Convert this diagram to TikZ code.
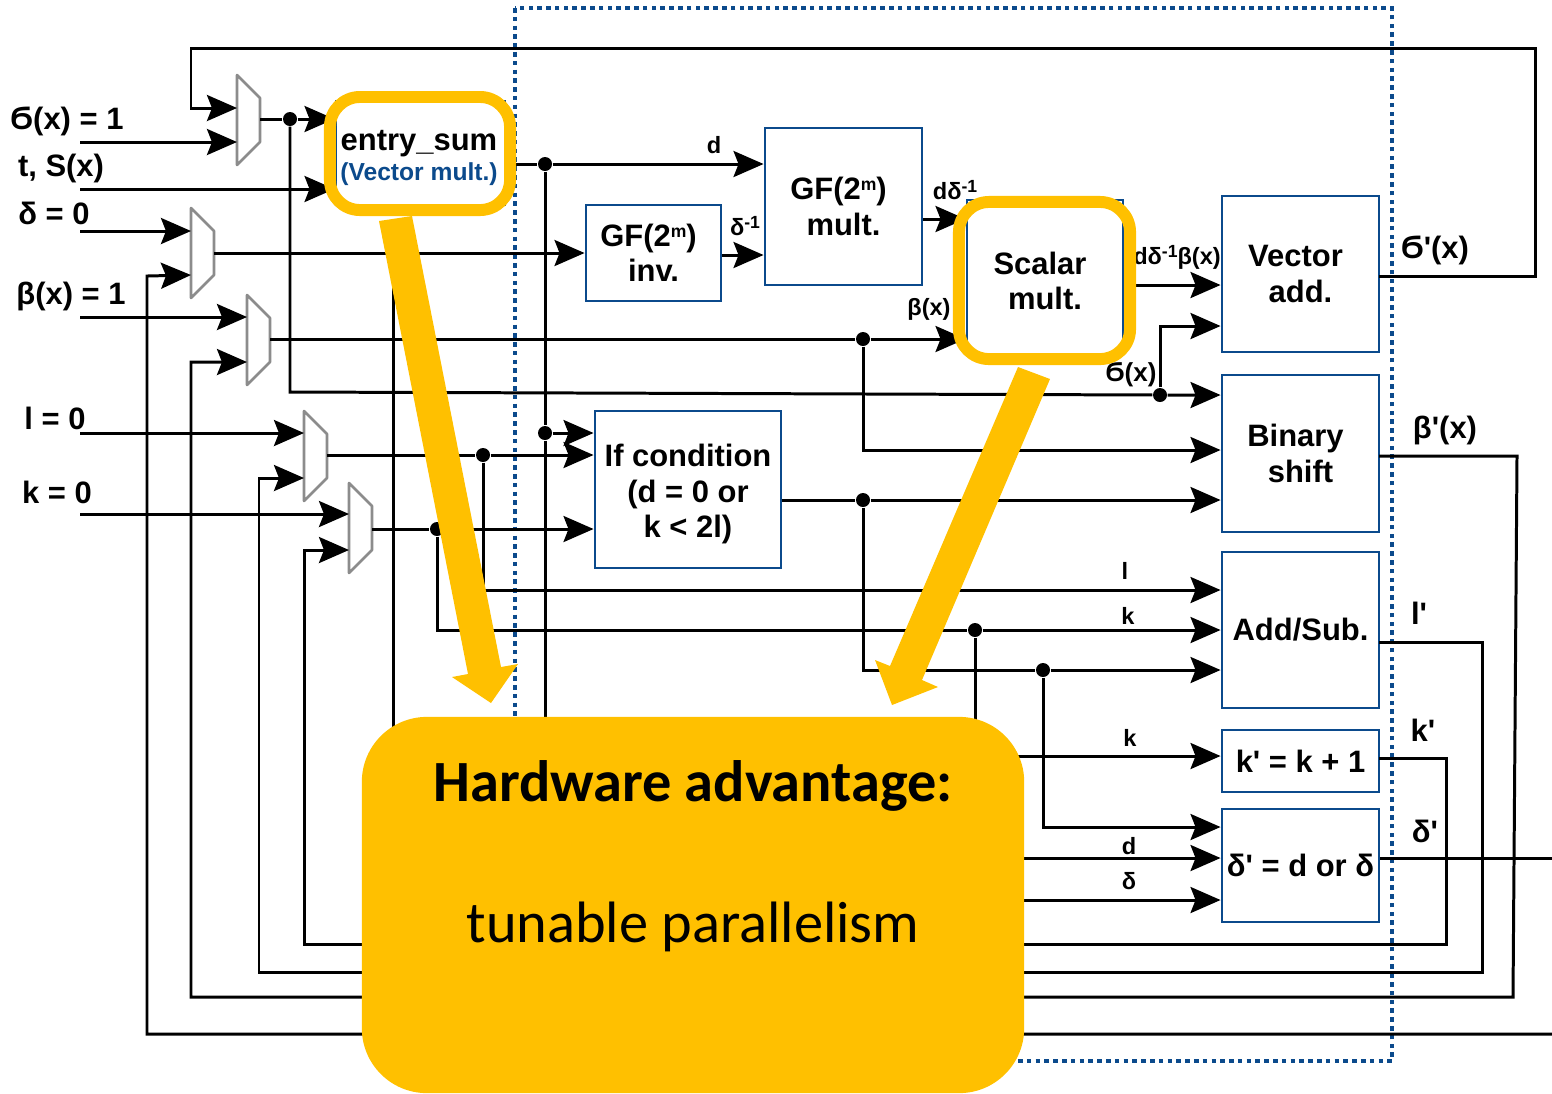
\documentclass[tikz,border=0pt]{standalone}
\usepackage{fontspec}
\newfontfamily\arialfont{Liberation Sans}
\newfontfamily\calibrifont{Carlito}
\usepackage{tikz}
\usetikzlibrary{arrows.meta}
\definecolor{boxblue}{HTML}{0B4A8C}
\definecolor{hiorange}{HTML}{FFC000}
\definecolor{muxgray}{HTML}{8C8C8C}
\newcommand{\upidx}[1]{\raisebox{0.55ex}{\fontsize{5}{6}\selectfont #1}}
\tikzset{
    wire/.style={line width=0.85pt, line join=miter},
    block/.style={draw=boxblue, fill=white, line width=0.8pt, align=center, inner sep=0pt, font=\fontsize{8.8}{10}\selectfont\arialfont\bfseries},
    hilite/.style={draw=hiorange, line width=3.4pt, rounded corners=0.3cm},
    junction/.style={circle, fill=black, inner sep=0pt, minimum size=0.14cm},
    lblbig/.style={inner sep=0pt, font=\fontsize{8.8}{10}\selectfont\arialfont\bfseries},
    lblmid/.style={inner sep=0pt, font=\fontsize{7.4}{9}\selectfont\arialfont\bfseries},
    lblsmall/.style={inner sep=0pt, font=\fontsize{6.7}{8}\selectfont\arialfont\bfseries},
}
\begin{document}
\begin{tikzpicture}[x=0.01cm, y=-0.01cm, >={Stealth[length=0.30cm, width=0.26cm, inset=0.05cm]}]
    \useasboundingbox (0,0) rectangle (1552,1093);

    % Dotted frame
    \draw[boxblue, line width=1pt, dash pattern=on 1.3pt off 1.2pt] (515,8) rectangle (1392,1061);

    % Blocks
    \node[block, minimum width=1.69cm, minimum height=1.04cm] (Entry) at (420.5,153) {};
    \node[block, minimum width=1.57cm, minimum height=1.57cm] (GFmult) at (843.5,206.5) {GF(2\upidx{m})\hspace*{0.1cm}\\mult.};
    \node[block, minimum width=1.35cm, minimum height=0.96cm] (GFinv) at (653.5,253) {GF(2\upidx{m})\hspace*{0.1cm}\\inv.};
    \node[block, minimum width=1.56cm, minimum height=1.54cm] (Scalar) at (1045,277) {\rule{0pt}{8.5pt}Scalar\hspace*{0.1cm}\\mult.};
    \node[block, minimum width=1.57cm, minimum height=1.56cm] (Vector) at (1300.5,274) {Vector\hspace*{0.1cm}\\add.};
    \node[block, minimum width=1.57cm, minimum height=1.57cm] (Binary) at (1300.5,453.5) {Binary\hspace*{0.1cm}\\shift};
    \node[block, minimum width=1.57cm, minimum height=1.56cm] (AddSub) at (1300.5,630) {Add/Sub.};
    \node[block, minimum width=1.57cm, minimum height=0.62cm] (Kplus) at (1300.5,761) {k' = k + 1};
    \node[block, minimum width=1.57cm, minimum height=1.13cm] (Dnew) at (1300.5,865.5) {δ' = d or δ};
    \node[block, minimum width=1.86cm, minimum height=1.57cm] (Ifcond) at (688,489.5) {\rule{0pt}{9pt}If condition\\(d = 0 or\hspace*{0.1cm}\\k < 2l)};
    \node[lblbig] (EntryName) at (419,144) {entry\_sum};
    \node[lblbig, font=\fontsize{7}{8}\selectfont\arialfont\bfseries, text=boxblue] (EntryType) at (419,174) {(Vector mult.)};

    % Multiplexers, with their two inputs and the output
    \foreach \name/\x/\y/\a in {muxA/237/75/33, muxB/191/208/23, muxC/247/295/22, muxD/304/411/22, muxE/349/483/31} {
        \draw[muxgray, fill=white, line width=0.75pt, line join=round] (\x,\y) -- (\x+23,\y+23) -- (\x+23,\y+67) -- (\x,\y+90) -- cycle;
        \coordinate (\name a) at (\x,\y+\a);
        \coordinate (\name b) at (\x,\y+67);
        \coordinate (\name o) at (\x+23,\y+45);
    }

    % Free ends of the input lines
    \coordinate (inS) at (80,142);
    \coordinate (inT) at (80,189);
    \coordinate (inD) at (80,231);
    \coordinate (inB) at (80,317);
    \coordinate (inL) at (80,433);
    \coordinate (inK) at (80,514);
    \draw[wire, ->] (inS) -- (muxAb);
    \draw[wire, ->] (inT) -- (inT -| Entry.west);
    \draw[wire, ->] (inD) -- (muxBa);
    \draw[wire, ->] (inB) -- (muxCa);
    \draw[wire, ->] (inL) -- (muxDa);
    \draw[wire, ->] (inK) -- (muxEa);

    % Junctions
    \node[junction] (jA) at (290,119) {};
    \node[junction] (jB) at (1160,395) {};
    \node[junction] (jC) at (545,164) {};
    \node[junction] (jD) at (545,433) {};
    \node[junction] (jE) at (863,339) {};
    \node[junction] (jF) at (483,455) {};
    \node[junction] (jG) at (437,529) {};
    \node[junction] (jH) at (975,630) {};
    \node[junction] (jI) at (863,500) {};
    \node[junction] (jJ) at (1043,670) {};

    % Feedback paths
    \coordinate (fbS) at (1379,276);
    \coordinate (fbB) at (1379,456);
    \coordinate (fbL) at (1379,642);
    \coordinate (fbK) at (1379,758);
    \coordinate (outD) at (1552,858);
    \coordinate (outB) at (1552,1034);
    \draw[wire, ->] (fbS) -- (1535,276) -- (1535,48) -- (191,48) -- (191,108) -- (muxAa);
    \draw[wire, ->] (outB) -- (147,1034) -- (147,276) -- (muxBb);
    \draw[wire, ->] (fbB) -- (1517,456) -- (1513,997) -- (191,997) -- (191,362) -- (muxCb);
    \draw[wire, ->] (fbL) -- (1482,642) -- (1482,972) -- (259,972) -- (259,478) -- (muxDb);
    \draw[wire, ->] (fbK) -- (1446,758) -- (1446,944) -- (304,944) -- (304,550) -- (muxEb);
    \draw[wire] (Dnew.east |- outD) -- (outD);

    % Forward paths
    \draw[wire, ->] (muxAo |- jA) -- (jA) -- (jA -| Entry.west);
    \draw[wire, ->] (jA) -- (290,392) -- (jB) -- (jB -| Binary.west);
    \draw[wire, ->] (jB) -- (1160,326) -- (1160,326 -| Vector.west);
    \draw[wire, ->] (Entry.east |- jC) -- (jC) -- (jC -| GFmult.west);
    \draw[wire, ->] (jC) -- (jD) -- (545,858) -- (545,858 -| Dnew.west);
    \draw[wire, ->] (jD) -- (jD -| Ifcond.west);
    \draw[wire, ->] (muxBo) -- (muxBo -| GFinv.west);
    \draw[wire, ->] (393,254) -- (393,900) -- (393,900 -| Dnew.west);
    \draw[wire, ->] (GFinv.east |- 0,255) -- (GFmult.west |- 0,255);
    \draw[wire, ->] (GFmult.east |- 0,219) -- (Scalar.west |- 0,219);
    \draw[wire, ->] (muxCo |- jE) -- (jE) -- (jE -| Scalar.west);
    \draw[wire, ->] (jE) -- (863,450) -- (863,450 -| Binary.west);
    \draw[wire, ->] (Scalar.east |- 0,285) -- (Vector.west |- 0,285);
    \draw[wire, ->] (muxDo |- jF) -- (jF) -- (jF -| Ifcond.west);
    \draw[wire, ->] (jF) -- (483,590) -- (483,590 -| AddSub.west);
    \draw[wire, ->] (muxEo |- jG) -- (jG) -- (jG -| Ifcond.west);
    \draw[wire, ->] (jG) -- (437,630) -- (jH) -- (jH -| AddSub.west);
    \draw[wire, ->] (jH) -- (975,756) -- (975,756 -| Kplus.west);
    \draw[wire, ->] (Ifcond.east |- jI) -- (jI) -- (jI -| Binary.west);
    \draw[wire, ->] (jI) -- (863,670) -- (jJ) -- (jJ -| AddSub.west);
    \draw[wire, ->] (jJ) -- (1043,827) -- (1043,827 -| Dnew.west);

    % Labels
    \node[lblbig] (lblS) at (67,121) {Ϭ(x) = 1};
    \node[lblbig] (lblT) at (61,168) {t, S(x)};
    \node[lblbig] (lblD) at (54,213) {δ = 0};
    \node[lblbig] (lblB) at (71,296) {β(x) = 1};
    \node[lblbig] (lblL) at (55,418) {l = 0};
    \node[lblbig] (lblK) at (57,492) {k = 0};
    \node[lblsmall] (lblDa) at (714,145) {d};
    \node[lblsmall] (lblInv) at (745,226) {δ\upidx{-1}};
    \node[lblsmall] (lblDinv) at (955,190) {dδ\upidx{-1}};
    \node[lblsmall] (lblBeta) at (929,309) {β(x)};
    \node[lblsmall] (lblProd) at (1177,257) {dδ\upidx{-1}β(x)};
    \node[lblmid] (lblSigma) at (1131,375) {Ϭ(x)};
    \node[lblsmall] (lblLa) at (1125,571) {l};
    \node[lblsmall] (lblKa) at (1128,616) {k};
    \node[lblsmall] (lblKb) at (1130,738) {k};
    \node[lblsmall] (lblDb) at (1129,846) {d};
    \node[lblsmall] (lblDc) at (1129,881) {δ};
    \node[lblbig] (lblSn) at (1435,250) {Ϭ'(x)};
    \node[lblbig] (lblBn) at (1445,430) {β'(x)};
    \node[lblbig] (lblLn) at (1419,613) {l'};
    \node[lblbig] (lblKn) at (1423,730) {k'};
    \node[lblbig] (lblDn) at (1425,831) {δ'};

    % Orange highlights and arrows
    \node[hilite, minimum width=1.80cm, minimum height=1.13cm] (EntryHi) at (420,153.5) {};
    \node[hilite, minimum width=1.71cm, minimum height=1.57cm] (ScalarHi) at (1044.5,280.5) {};
    \fill[hiorange] (379,221) -- (412,216) -- (501,667) -- (518,664) -- (491,703) -- (452,677) -- (468,674) -- cycle;
    \fill[hiorange] (1018,367) -- (1050,379) -- (922,680) -- (938,687) -- (892,705) -- (875,660) -- (890,666) -- cycle;

    % Hardware advantage box
    \node[fill=hiorange, rounded corners=0.65cm, minimum width=6.62cm, minimum height=3.76cm] (Advantage) at (693,905) {};
    \node[inner sep=0pt, font=\fontsize{16.6}{18}\selectfont\calibrifont\bfseries] (AdvTitle) at (693,786) {Hardware advantage:};
    \node[inner sep=0pt, font=\fontsize{16.6}{18}\selectfont\calibrifont] (AdvText) at (693,927) {tunable parallelism};
\end{tikzpicture}
\end{document}
